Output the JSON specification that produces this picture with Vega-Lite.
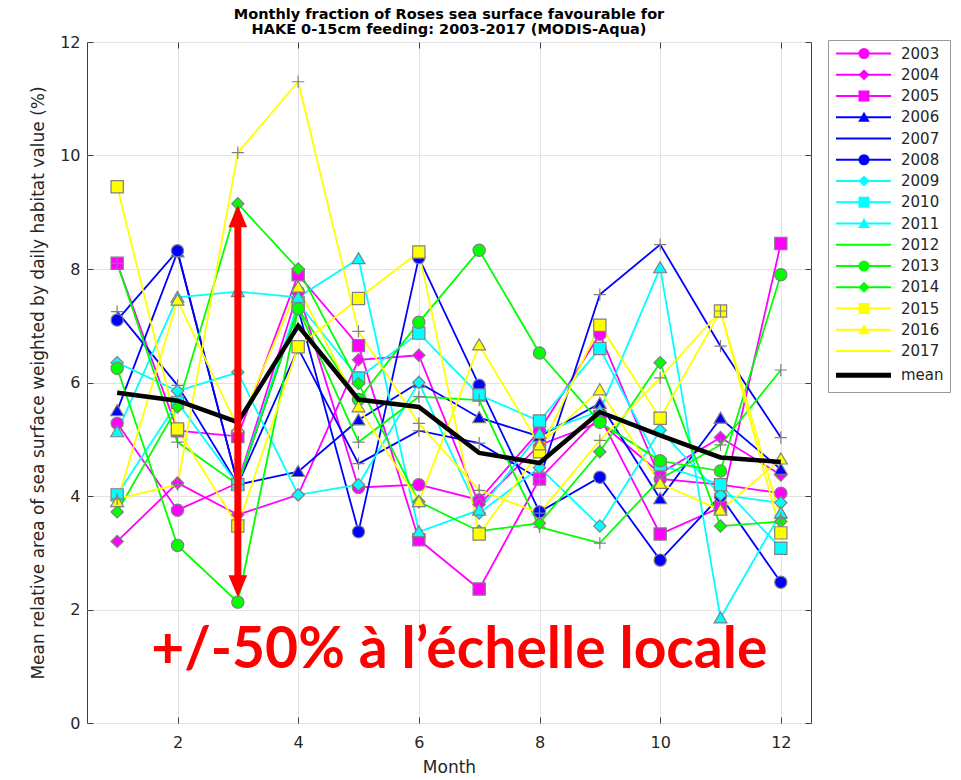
{
"$schema": "https://vega.github.io/schema/vega-lite/v6.json",
"width": 724, "height": 681,
"autosize": {"type": "none"},
"padding": {"left": 87, "top": 42, "right": 150, "bottom": 57},
"background": "white",
"title": {"text": ["Monthly fraction of Roses sea surface favourable for", "HAKE 0-15cm  feeding: 2003-2017 (MODIS-Aqua)"], "font": "DejaVu Sans", "fontSize": 14.5, "fontWeight": "bold", "color": "#000000", "lineHeight": 15, "anchor": "middle", "offset": -3},
"config": {
  "view": {"stroke": "#404040", "strokeWidth": 1},
  "axis": {"labelFont": "DejaVu Sans", "labelFontSize": 16, "labelColor": "#262626", "titleFont": "DejaVu Sans", "titleFontSize": 17, "titleFontWeight": "normal", "titleColor": "#262626", "gridColor": "#e3e3e3", "domain": false, "tickColor": "#404040", "tickSize": -6, "format": "d"}
},
"resolve": {"axis": {"x": "independent", "y": "independent"}},
"datasets": {
  "yearly": [
{"series":"2003","month":1,"value":5.28},{"series":"2003","month":2,"value":3.75},{"series":"2003","month":3,"value":4.23},{"series":"2003","month":4,"value":7.6},{"series":"2003","month":5,"value":4.15},{"series":"2003","month":6,"value":4.2},{"series":"2003","month":7,"value":3.93},{"series":"2003","month":8,"value":5.15},{"series":"2003","month":9,"value":6.85},{"series":"2003","month":10,"value":4.3},{"series":"2003","month":11,"value":4.2},{"series":"2003","month":12,"value":4.05},
{"series":"2004","month":1,"value":3.2},{"series":"2004","month":2,"value":4.23},{"series":"2004","month":3,"value":3.67},{"series":"2004","month":4,"value":4.02},{"series":"2004","month":5,"value":6.4},{"series":"2004","month":6,"value":6.48},{"series":"2004","month":7,"value":3.85},{"series":"2004","month":8,"value":4.9},{"series":"2004","month":9,"value":5.3},{"series":"2004","month":10,"value":4.4},{"series":"2004","month":11,"value":5.03},{"series":"2004","month":12,"value":4.37},
{"series":"2005","month":1,"value":8.1},{"series":"2005","month":2,"value":5.15},{"series":"2005","month":3,"value":5.05},{"series":"2005","month":4,"value":7.9},{"series":"2005","month":5,"value":6.65},{"series":"2005","month":6,"value":3.23},{"series":"2005","month":7,"value":2.36},{"series":"2005","month":8,"value":4.3},{"series":"2005","month":9,"value":5.4},{"series":"2005","month":10,"value":3.33},{"series":"2005","month":11,"value":3.8},{"series":"2005","month":12,"value":8.45},
{"series":"2006","month":1,"value":5.5},{"series":"2006","month":2,"value":8.3},{"series":"2006","month":3,"value":4.2},{"series":"2006","month":4,"value":4.43},{"series":"2006","month":5,"value":5.34},{"series":"2006","month":6,"value":6.0},{"series":"2006","month":7,"value":5.38},{"series":"2006","month":8,"value":5.05},{"series":"2006","month":9,"value":5.63},{"series":"2006","month":10,"value":3.95},{"series":"2006","month":11,"value":5.37},{"series":"2006","month":12,"value":4.47},
{"series":"2007","month":1,"value":7.25},{"series":"2007","month":2,"value":5.95},{"series":"2007","month":3,"value":4.2},{"series":"2007","month":4,"value":6.6},{"series":"2007","month":5,"value":4.57},{"series":"2007","month":6,"value":5.15},{"series":"2007","month":7,"value":4.93},{"series":"2007","month":8,"value":4.3},{"series":"2007","month":9,"value":7.55},{"series":"2007","month":10,"value":8.43},{"series":"2007","month":11,"value":6.64},{"series":"2007","month":12,"value":5.03},
{"series":"2008","month":1,"value":7.1},{"series":"2008","month":2,"value":8.32},{"series":"2008","month":3,"value":4.2},{"series":"2008","month":4,"value":7.3},{"series":"2008","month":5,"value":3.37},{"series":"2008","month":6,"value":8.2},{"series":"2008","month":7,"value":5.95},{"series":"2008","month":8,"value":3.72},{"series":"2008","month":9,"value":4.33},{"series":"2008","month":10,"value":2.87},{"series":"2008","month":11,"value":4.0},{"series":"2008","month":12,"value":2.48},
{"series":"2009","month":1,"value":6.35},{"series":"2009","month":2,"value":5.85},{"series":"2009","month":3,"value":6.18},{"series":"2009","month":4,"value":4.02},{"series":"2009","month":5,"value":4.2},{"series":"2009","month":6,"value":6.0},{"series":"2009","month":7,"value":3.7},{"series":"2009","month":8,"value":4.5},{"series":"2009","month":9,"value":3.47},{"series":"2009","month":10,"value":5.16},{"series":"2009","month":11,"value":4.02},{"series":"2009","month":12,"value":3.88},
{"series":"2010","month":1,"value":4.02},{"series":"2010","month":2,"value":5.65},{"series":"2010","month":3,"value":4.2},{"series":"2010","month":4,"value":7.4},{"series":"2010","month":5,"value":6.08},{"series":"2010","month":6,"value":6.87},{"series":"2010","month":7,"value":5.78},{"series":"2010","month":8,"value":5.32},{"series":"2010","month":9,"value":6.6},{"series":"2010","month":10,"value":4.55},{"series":"2010","month":11,"value":4.2},{"series":"2010","month":12,"value":3.08},
{"series":"2011","month":1,"value":5.13},{"series":"2011","month":2,"value":7.5},{"series":"2011","month":3,"value":7.6},{"series":"2011","month":4,"value":7.5},{"series":"2011","month":5,"value":8.18},{"series":"2011","month":6,"value":3.37},{"series":"2011","month":7,"value":3.75},{"series":"2011","month":8,"value":5.1},{"series":"2011","month":9,"value":5.5},{"series":"2011","month":10,"value":8.02},{"series":"2011","month":11,"value":1.85},{"series":"2011","month":12,"value":3.7},
{"series":"2012","month":1,"value":8.1},{"series":"2012","month":2,"value":4.95},{"series":"2012","month":3,"value":4.2},{"series":"2012","month":4,"value":7.3},{"series":"2012","month":5,"value":4.95},{"series":"2012","month":6,"value":5.75},{"series":"2012","month":7,"value":5.69},{"series":"2012","month":8,"value":3.45},{"series":"2012","month":9,"value":3.17},{"series":"2012","month":10,"value":4.3},{"series":"2012","month":11,"value":4.9},{"series":"2012","month":12,"value":6.22},
{"series":"2013","month":1,"value":6.25},{"series":"2013","month":2,"value":3.13},{"series":"2013","month":3,"value":2.13},{"series":"2013","month":4,"value":7.3},{"series":"2013","month":5,"value":5.7},{"series":"2013","month":6,"value":7.06},{"series":"2013","month":7,"value":8.33},{"series":"2013","month":8,"value":6.52},{"series":"2013","month":9,"value":5.3},{"series":"2013","month":10,"value":4.62},{"series":"2013","month":11,"value":4.44},{"series":"2013","month":12,"value":7.9},
{"series":"2014","month":1,"value":3.72},{"series":"2014","month":2,"value":5.57},{"series":"2014","month":3,"value":9.15},{"series":"2014","month":4,"value":8.0},{"series":"2014","month":5,"value":5.98},{"series":"2014","month":6,"value":3.9},{"series":"2014","month":7,"value":3.38},{"series":"2014","month":8,"value":3.52},{"series":"2014","month":9,"value":4.78},{"series":"2014","month":10,"value":6.35},{"series":"2014","month":11,"value":3.47},{"series":"2014","month":12,"value":3.55},
{"series":"2015","month":1,"value":9.45},{"series":"2015","month":2,"value":5.18},{"series":"2015","month":3,"value":3.47},{"series":"2015","month":4,"value":6.63},{"series":"2015","month":5,"value":7.48},{"series":"2015","month":6,"value":8.3},{"series":"2015","month":7,"value":3.33},{"series":"2015","month":8,"value":4.78},{"series":"2015","month":9,"value":7.01},{"series":"2015","month":10,"value":5.37},{"series":"2015","month":11,"value":7.26},{"series":"2015","month":12,"value":3.35},
{"series":"2016","month":1,"value":3.9},{"series":"2016","month":2,"value":7.45},{"series":"2016","month":3,"value":5.2},{"series":"2016","month":4,"value":7.68},{"series":"2016","month":5,"value":5.57},{"series":"2016","month":6,"value":3.9},{"series":"2016","month":7,"value":6.66},{"series":"2016","month":8,"value":4.9},{"series":"2016","month":9,"value":5.87},{"series":"2016","month":10,"value":4.22},{"series":"2016","month":11,"value":3.75},{"series":"2016","month":12,"value":4.65},
{"series":"2017","month":1,"value":3.95},{"series":"2017","month":2,"value":4.2},{"series":"2017","month":3,"value":10.05},{"series":"2017","month":4,"value":11.3},{"series":"2017","month":5,"value":6.9},{"series":"2017","month":6,"value":5.28},{"series":"2017","month":7,"value":4.1},{"series":"2017","month":8,"value":3.7},{"series":"2017","month":9,"value":4.98},{"series":"2017","month":10,"value":6.08},{"series":"2017","month":11,"value":7.26},{"series":"2017","month":12,"value":3.6},
{"series":"mean","month":1,"value":5.82},{"series":"mean","month":2,"value":5.68},{"series":"mean","month":3,"value":5.3},{"series":"mean","month":4,"value":7.0},{"series":"mean","month":5,"value":5.7},{"series":"mean","month":6,"value":5.57},{"series":"mean","month":7,"value":4.76},{"series":"mean","month":8,"value":4.58},{"series":"mean","month":9,"value":5.48},{"series":"mean","month":10,"value":5.07},{"series":"mean","month":11,"value":4.68},{"series":"mean","month":12,"value":4.6}
  ],
  "shaft": [{"month": 3, "value": 2.55, "value2": 8.75}],
  "headUp": [{"month": 3, "value": 8.93}],
  "headDown": [{"month": 3, "value": 2.41}],
  "note": [{"month": 6.67, "value": 0.97, "label": "+/-50% à l’échelle locale"}]
},
"data": {"name": "yearly"},
"layer": [
  {
    "transform": [{"filter": "datum.series !== 'mean'"}],
    "mark": {"type": "line", "strokeWidth": 1.8},
    "encoding": {
      "x": {"field": "month", "type": "quantitative", "scale": {"domain": [0.5, 12.5], "nice": false, "zero": false}, "axis": {"orient": "bottom", "values": [2,4,6,8,10,12], "title": "Month", "grid": true, "labelPadding": 17, "titlePadding": 9}},
      "y": {"field": "value", "type": "quantitative", "scale": {"domain": [0, 12], "nice": false}, "axis": {"orient": "left", "values": [0,2,4,6,8,10,12], "title": "Mean relative area of sea surface weighted by daily habitat value (%)", "grid": true, "labelPadding": 13, "titlePadding": 12}},
      "color": {"field": "series", "type": "nominal",
        "scale": {"domain": ["2003","2004","2005","2006","2007","2008","2009","2010","2011","2012","2013","2014","2015","2016","2017","mean","zz"],
                  "range": ["#ff00ff","#ff00ff","#ff00ff","#0000ff","#0000ff","#0000ff","#00ffff","#00ffff","#00ffff","#00ff00","#00ff00","#00ff00","#ffff00","#ffff00","#ffff00","#000000","#ffffff"]},
        "legend": {"orient": "none", "legendX": 741, "legendY": -2, "title": null,
          "values": ["2003","2004","2005","2006","2007","2008","2009","2010","2011","2012","2013","2014","2015","2016","2017","mean"],
          "symbolType": "M-1,0H9", "symbolSize": 121, "symbolStrokeWidth": 1.8,
          "labelFont": "DejaVu Sans", "labelFontSize": 15, "labelColor": "#262626", "labelOffset": 52,
          "padding": 6, "rowPadding": 5.25, "strokeColor": "#999999", "fillColor": "#ffffff",
          "encode": {"symbols": {"update": {"strokeWidth": {"signal": "datum.value === 'mean' ? 5 : 1.8"}}}}}
      }
    }
  },
  {
    "transform": [{"filter": "datum.series !== 'mean'"}],
    "mark": {"type": "point", "filled": true, "size": 150, "stroke": "#808080", "strokeWidth": 1.2, "opacity": 1},
    "encoding": {
      "x": {"field": "month", "type": "quantitative", "axis": null},
      "y": {"field": "value", "type": "quantitative", "axis": null},
      "fill": {"field": "series", "type": "nominal",
        "scale": {"domain": ["2003","2004","2005","2006","2007","2008","2009","2010","2011","2012","2013","2014","2015","2016","2017","mean"],
                  "range": ["#ff00ff","#ff00ff","#ff00ff","#0000ff","#0000ff","#0000ff","#00ffff","#00ffff","#00ffff","#00ff00","#00ff00","#00ff00","#ffff00","#ffff00","#ffff00","#000000"]},
        "legend": {"orient": "none", "legendX": 769.5, "legendY": 4, "title": null, "symbolSize": 121, "symbolStrokeColor": "#808080", "symbolStrokeWidth": 1,
          "labelFont": "DejaVu Sans", "labelFontSize": 15, "labelColor": "transparent", "labelOffset": 30, "padding": 0, "rowPadding": 5.25}},
      "shape": {"field": "series", "type": "nominal",
        "scale": {"domain": ["2003","2004","2005","2006","2007","2008","2009","2010","2011","2012","2013","2014","2015","2016","2017","mean"],
                  "range": ["circle","diamond","square","M0,-1L1.05,0.8L-1.05,0.8Z","M-1,0H1M0,-1V1","circle","diamond","square","M0,-1L1.05,0.8L-1.05,0.8Z","M-1,0H1M0,-1V1","circle","diamond","square","M0,-1L1.05,0.8L-1.05,0.8Z","M-1,0H1M0,-1V1","M0,0"]},
        "legend": {"orient": "none", "legendX": 769.5, "legendY": 4, "title": null, "symbolSize": 121, "symbolStrokeColor": "#808080", "symbolStrokeWidth": 1,
          "labelFont": "DejaVu Sans", "labelFontSize": 15, "labelColor": "transparent", "labelOffset": 30, "padding": 0, "rowPadding": 5.25}}
    }
  },
  {
    "transform": [{"filter": "datum.series === 'mean'"}],
    "mark": {"type": "line", "strokeWidth": 4.5},
    "encoding": {
      "x": {"field": "month", "type": "quantitative", "axis": null},
      "y": {"field": "value", "type": "quantitative", "axis": null},
      "color": {"field": "series", "type": "nominal", "legend": null}
    }
  },
  {
    "data": {"name": "shaft"},
    "mark": {"type": "rule", "color": "#ff0000", "strokeWidth": 7},
    "encoding": {
      "x": {"field": "month", "type": "quantitative", "axis": {"orient": "top", "values": [2,4,6,8,10,12], "labels": false, "title": null, "grid": false, "tickSize": -6}},
      "y": {"field": "value", "type": "quantitative", "axis": {"orient": "right", "values": [0,2,4,6,8,10,12], "labels": false, "title": null, "grid": false, "tickSize": -6}},
      "y2": {"field": "value2"}
    }
  },
  {
    "data": {"name": "headUp"},
    "mark": {"type": "point", "filled": true, "shape": "M0,-1L-0.85,1L0.85,1Z", "size": 484, "color": "#ff0000", "strokeWidth": 0, "opacity": 1},
    "encoding": {
      "x": {"field": "month", "type": "quantitative", "axis": null},
      "y": {"field": "value", "type": "quantitative", "axis": null}
    }
  },
  {
    "data": {"name": "headDown"},
    "mark": {"type": "point", "filled": true, "shape": "M0,1L-0.85,-1L0.85,-1Z", "size": 484, "color": "#ff0000", "strokeWidth": 0, "opacity": 1},
    "encoding": {
      "x": {"field": "month", "type": "quantitative", "axis": null},
      "y": {"field": "value", "type": "quantitative", "axis": null}
    }
  },
  {
    "data": {"name": "note"},
    "mark": {"type": "text", "font": "Lato", "fontWeight": "bold", "fontSize": 57, "color": "#ff0000", "align": "center", "baseline": "alphabetic"},
    "encoding": {
      "x": {"field": "month", "type": "quantitative", "axis": null},
      "y": {"field": "value", "type": "quantitative", "axis": null},
      "text": {"field": "label"}
    }
  }
]
}
